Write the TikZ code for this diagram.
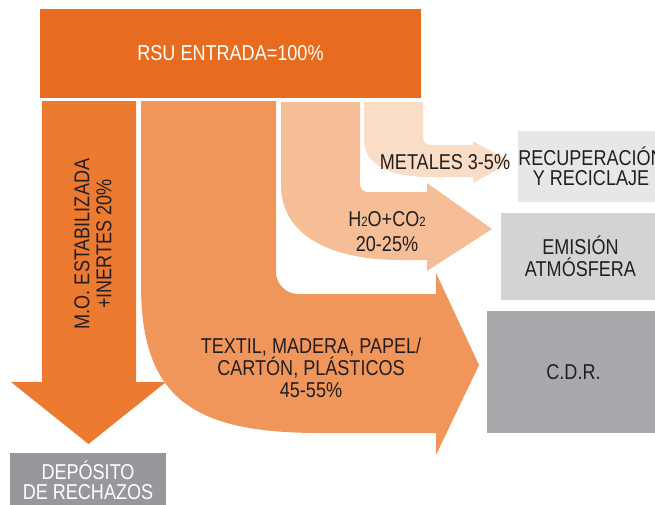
\documentclass[tikz,border=0pt]{standalone}
\usepackage{fontspec}
\setmainfont{Liberation Sans}[FakeStretch=0.84]

\definecolor{rsucol}{HTML}{E86C20}
\definecolor{mocol}{HTML}{EC7A30}
\definecolor{texcol}{HTML}{F0965B}
\definecolor{gascol}{HTML}{F5BE96}
\definecolor{metcol}{HTML}{FADDC6}
\definecolor{depcol}{HTML}{97989B}
\definecolor{cdrcol}{HTML}{A7A9AC}
\definecolor{emicol}{HTML}{D1D3D4}
\definecolor{reccol}{HTML}{E6E7E8}
\definecolor{txtdark}{HTML}{231F20}

\newcommand{\subtwo}{{\fontsize{13.5}{13.5}\selectfont 2}}

\begin{document}
\begin{tikzpicture}[x=1pt,y=-1pt,
    every node/.style={font=\fontsize{21.5}{22}\selectfont,text=txtdark},
    box/.style={inner sep=0pt,align=center}]
      \useasboundingbox (0,0) rectangle (655,504);
      \clip (0,0) rectangle (655,504);

      \node (rsu) [box,fill=rsucol,text=white,minimum width=381pt,minimum height=89pt] at (230.5,53.5) {RSU ENTRADA=100\%};

      \fill[mocol] (42,101) -- (136,101) -- (136,382) -- (166,382) -- (88.5,444) -- (11,382) -- (42,382) -- cycle;
      \fill[texcol] (141,101) -- (276,101) -- (276,272) .. controls (276,284) and (286,294) .. (298,294)
          -- (436,294) -- (436,273) -- (479,365) -- (436,455) -- (436,433) -- (320,433)
          .. controls (195,433) and (141,400) .. (141,285) -- cycle;
      \fill[gascol] (281,102) -- (360,102) -- (360,184) .. controls (360,189) and (363,192) .. (368,192)
          -- (427,192) -- (427,183) -- (492,229) -- (427,271) -- (427,260) -- (400,260)
          .. controls (330,260) and (281,235) .. (281,185) -- cycle;
      \fill[metcol] (364,102) -- (423,102) -- (423,137) .. controls (423,142) and (426,145) .. (431,145)
          -- (473,145) -- (473,141) -- (511,162) -- (473,183) -- (473,177) -- (430,177)
          .. controls (390,177) and (364,165) .. (364,140) -- cycle;

      \node (mo) [box,rotate=90] at (93,244) {M.O. ESTABILIZADA\\+INERTES 20\%};
      \node (tex) [box] at (311,368) {TEXTIL, MADERA, PAPEL/\\CARTÓN, PLÁSTICOS\\45-55\%};
      \node (gas) [box,font=\fontsize{21.5}{25}\selectfont] at (387,232) {H\subtwo O+CO\subtwo\\20-25\%};
      \node (met) [box] at (445,162) {METALES 3-5\%};

      \node (dep) [box,fill=depcol,text=white,minimum width=156pt,minimum height=54pt,font=\fontsize{21.5}{20}\selectfont] at (88,480) {DEPÓSITO\\DE RECHAZOS};
      \node (cdr) [box,fill=cdrcol,minimum width=173pt,minimum height=122pt] at (573.5,372) {C.D.R.};
      \node (emi) [box,fill=emicol,minimum width=159pt,minimum height=87pt] at (580.5,256.5) {EMISIÓN\\ATMÓSFERA};
      \node (rec) [box,fill=reccol,minimum width=138pt,minimum height=71pt,font=\fontsize{21.5}{20}\selectfont] at (591,166.5) {RECUPERACIÓN\\Y RECICLAJE};
\end{tikzpicture}
\end{document}
